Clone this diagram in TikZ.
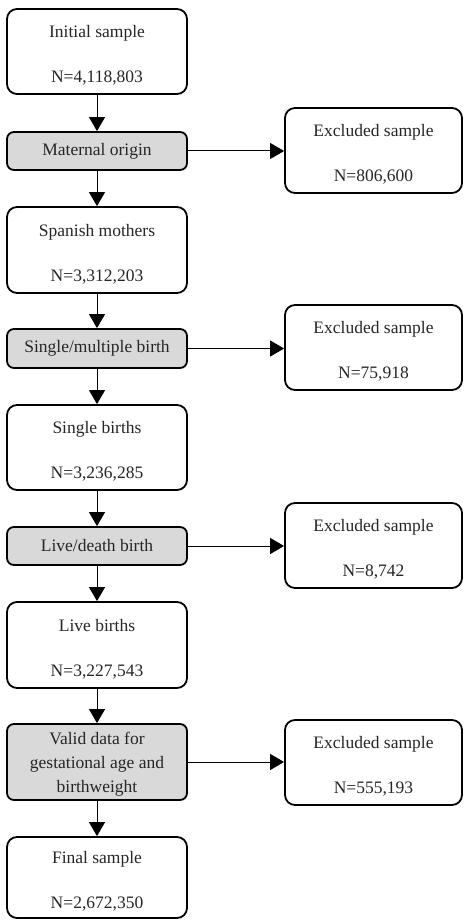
\documentclass[tikz,border=0pt]{standalone}
\usepackage{fontspec}
\setmainfont{Liberation Serif}
\usetikzlibrary{arrows.meta}
\begin{document}
\begin{tikzpicture}[x=1pt,y=-1pt,
  box/.style={draw=black,line width=1.8pt,rounded corners=10pt,fill=white,align=center,
    font=\fontsize{17.5}{21}\selectfont,inner sep=0pt,text=black!85},
  leftbox/.style={box,minimum width=180pt},
  rightbox/.style={box,minimum width=177pt,minimum height=85pt},
  graybox/.style={leftbox,fill=gray!30,rounded corners=7pt},
  conn/.style={line width=1pt,-{Triangle[length=14pt,width=16pt]}}]
\useasboundingbox (0,0) rectangle (466,920);
\def\gap{\\[24pt]}
\def\st{\rule{0pt}{20pt}}
\node[leftbox,minimum height=85pt] (init) at (97,51.5) {\st Initial sample\gap N=4,118,803};
\node[graybox,minimum height=38pt] (mat) at (97,151) {Maternal origin};
\node[leftbox,minimum height=86pt] (span) at (97,250) {\st Spanish mothers\gap N=3,312,203};
\node[graybox,minimum height=39pt] (sing) at (97,348.5) {Single/multiple birth};
\node[leftbox,minimum height=85pt] (singb) at (97,447.5) {\st Single births\gap N=3,236,285};
\node[graybox,minimum height=38pt] (live) at (97,546) {Live/death birth};
\node[leftbox,minimum height=86pt] (liveb) at (97,645) {\st Live births\gap N=3,227,543};
\node[graybox,minimum height=76pt,font=\fontsize{17.5}{24}\selectfont] (valid) at (97,762) {\rule{0pt}{16pt}Valid data for\\gestational age and\\birthweight};
\node[leftbox,minimum height=81pt] (final) at (97,877.5) {\st Final sample\gap N=2,672,350};
\node[rightbox] (ex1) at (373.5,150.5) {\st Excluded sample\gap N=806,600};
\node[rightbox] (ex2) at (373.5,347.5) {\st Excluded sample\gap N=75,918};
\node[rightbox] (ex3) at (373.5,545.5) {\st Excluded sample\gap N=8,742};
\node[rightbox] (ex4) at (373.5,762.5) {\st Excluded sample\gap N=555,193};
\draw[conn] (init) -- (mat);
\draw[conn] (mat) -- (span);
\draw[conn] (span) -- (sing);
\draw[conn] (sing) -- (singb);
\draw[conn] (singb) -- (live);
\draw[conn] (live) -- (liveb);
\draw[conn] (liveb) -- (valid);
\draw[conn] (valid) -- (final);
\draw[conn] (mat) -- (ex1.west |- mat);
\draw[conn] (sing) -- (ex2.west |- sing);
\draw[conn] (live) -- (ex3.west |- live);
\draw[conn] (valid) -- (ex4.west |- valid);
\end{tikzpicture}
\end{document}
